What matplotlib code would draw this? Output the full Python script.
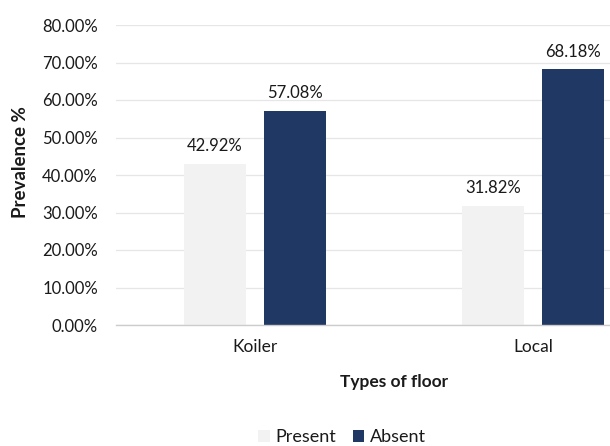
import matplotlib
matplotlib.use("Agg")
import matplotlib.pyplot as plt
import numpy as np
from matplotlib.ticker import FuncFormatter

categories = ["Koiler", "Local"]
series_names = ["Present", "Absent"]
present = [42.92, 31.82]
absent = [57.08, 68.18]
colors = ["#f2f2f2", "#203864"]

plt.rcParams['font.family'] = ['Lato', 'DejaVu Sans']
TXT = "#1a1a1a"

fig = plt.figure(figsize=(6.10, 4.46), dpi=100)
W, H = 610, 446
left, right, bottom, top = 116, 672, 325, 25
ax = fig.add_axes([left / W, 1 - bottom / H, (right - left) / W, (bottom - top) / H])

x = np.arange(len(categories))
bw = 0.223
off = 0.144
b1 = ax.bar(x - off, present, bw, color=colors[0], label=series_names[0], zorder=2)
b2 = ax.bar(x + off, absent, bw, color=colors[1], label=series_names[1], zorder=2)

for bars, vals in ((b1, present), (b2, absent)):
    for r, v in zip(bars, vals):
        ax.text(r.get_x() + r.get_width() / 2, v + 2.6, f"{v:.2f}%", ha="center",
                va="bottom", fontsize=12, color=TXT)

ax.set_xlim(-0.5, 1.5)
ax.set_ylim(0, 80)
ax.set_yticks(np.arange(0, 81, 10))
ax.yaxis.set_major_formatter(FuncFormatter(lambda v, p: f"{v:.2f}%"))
ax.set_xticks(x)
ax.set_xticklabels(categories)
ax.tick_params(axis="both", length=0, colors=TXT)
ax.tick_params(axis="y", labelsize=12, pad=13)
ax.tick_params(axis="x", labelsize=12.5, pad=10)
ax.grid(axis="y", color="#e6e6e6", linewidth=0.9, zorder=0)
for s in ["top", "right", "left"]:
    ax.spines[s].set_visible(False)
ax.spines["bottom"].set_color("#cccccc")
ax.spines["bottom"].set_linewidth(1.0)

ax.set_xlabel("Types of floor", fontsize=12.5, fontweight="bold", color=TXT)
ax.xaxis.set_label_coords(0.5, -(374 - 325) / 300)
ax.set_ylabel("Prevalence %", fontsize=13.5, fontweight="bold", color=TXT)
ax.yaxis.set_label_coords((29 - 116) / 556, (325 - 162) / 300)

fig.legend(handles=[b1, b2], labels=series_names, loc="center",
           bbox_to_anchor=(342 / W, 1 - 437 / H), ncol=2, frameon=False,
           fontsize=13, handlelength=0.65, handleheight=0.65,
           columnspacing=0.9, handletextpad=0.3, labelcolor=TXT)

fig.savefig("out.png", dpi=100)
